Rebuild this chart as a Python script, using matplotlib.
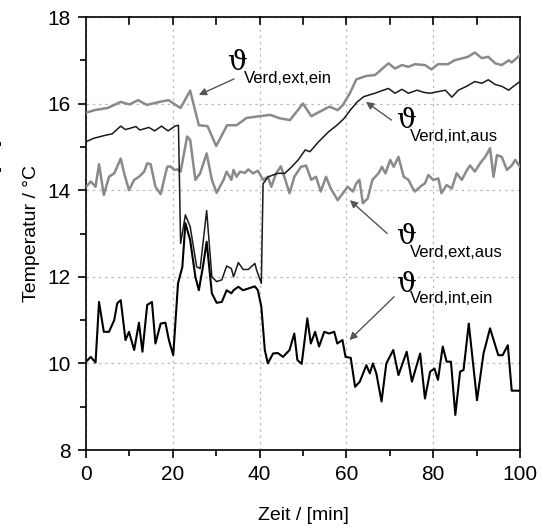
import numpy as np
import matplotlib
matplotlib.use("Agg")
from matplotlib import pyplot as plt
from matplotlib.ticker import MultipleLocator

plt.rcParams['font.family'] = ['Liberation Sans', 'DejaVu Sans']

# time / min and temperature / degC
t_ext_ein = [0, 2, 5, 8, 10, 12, 14, 17, 19, 20.5, 21.8, 24, 26, 28, 30, 32.5, 34.7, 37, 39.3, 42.4,
             44.7, 47, 50, 51.9, 53.8, 56.1, 58, 59.2, 60.8, 62.3, 64.6, 66.6, 68.2, 69.7, 71.2, 72.8,
             74.3, 75.8, 78.1, 79.6, 81.1, 83.4, 84.9, 88, 89.6, 91.2, 92.7, 94.3, 95.8, 97.4, 98.1, 100]
T_ext_ein = [15.79, 15.85, 15.9, 16.04, 15.98, 16.08, 15.97, 16.04, 16.08, 15.98, 15.9, 16.3, 15.5,
             15.48, 15.02, 15.5, 15.5, 15.67, 15.70, 15.74, 15.66, 15.62, 16.0, 15.71, 15.81, 15.93,
             15.85, 15.97, 16.24, 16.56, 16.64, 16.66, 16.8, 16.93, 16.81, 16.89, 16.85, 16.91, 16.89,
             16.79, 16.91, 16.91, 17.0, 17.08, 17.18, 17.05, 17.08, 16.93, 16.89, 17.0, 16.95, 17.12]

t_int_aus = [0, 1.8, 4.5, 6, 8, 9.1, 11.5, 12.4, 14.5, 15.8, 17.4, 18.9, 20.5, 21.3, 21.8, 22.9, 24,
             25.5, 26.3, 27.8, 29, 30.1, 31.3, 32.4, 33.5, 34, 35.1, 36.2, 37.4, 38.9, 39.3, 40.4, 40.8,
             42, 44.2, 45.8, 47, 48.9, 50.5, 51.6, 53.6, 55.9, 57.8, 59.4, 60.9, 62.5, 64, 65.9, 66.6,
             68.2, 69.7, 71.2, 72.8, 74.3, 76.3, 77.8, 79.3, 81.3, 82.8, 84.3, 85.8, 87.7, 89.6, 91.2,
             92.7, 94.3, 95.8, 97.4, 98.5, 100]
T_int_aus = [15.12, 15.2, 15.27, 15.3, 15.48, 15.4, 15.47, 15.39, 15.45, 15.37, 15.48, 15.37, 15.48,
             15.5, 12.77, 13.43, 13.16, 12.23, 12.19, 13.53, 12.0, 11.89, 11.93, 12.25, 12.19, 12.0,
             12.33, 12.17, 12.17, 12.31, 12.16, 11.85, 14.15, 14.31, 14.39, 14.39, 14.5, 14.7, 14.93,
             14.89, 15.12, 15.35, 15.5, 15.65, 15.85, 16.04, 16.16, 16.22, 16.24, 16.3, 16.35, 16.24,
             16.33, 16.24, 16.31, 16.26, 16.24, 16.28, 16.31, 16.15, 16.31, 16.4, 16.51, 16.47, 16.55,
             16.44, 16.4, 16.31, 16.4, 16.51]

t_ext_aus = [0, 1.1, 2.2, 3, 4.1, 5.3, 6.5, 8, 8.8, 9.9, 11.1, 12.2, 13.4, 14.1, 14.9, 16, 17.2, 18.7,
             19.5, 20.3, 21, 21.8, 23.3, 24, 25.2, 26.3, 27.8, 29, 30.1, 31.7, 32.4, 33.5, 34, 34.7,
             35.5, 36.6, 37.4, 38.5, 39.6, 40.8, 41.9, 42.7, 43.8, 44.9, 45.7, 46.9, 48, 49.5, 50.7,
             51.9, 53, 54.1, 55.3, 56.4, 58, 59.2, 60.3, 61.5, 62.3, 63, 63.8, 64.9, 66, 67.4, 68.2, 69,
             70.1, 70.9, 72, 73.2, 74.3, 75.1, 75.8, 77, 78.1, 78.9, 80, 81.2, 81.9, 83.1, 84.3, 85.4,
             86.6, 87.8, 88.5, 89.6, 90.8, 92, 93.1, 93.9, 94.7, 95.8, 97, 98.1, 98.9, 100]
T_ext_aus = [14.08, 14.2, 14.08, 14.6, 13.89, 14.31, 14.39, 14.73, 14.39, 14.0, 14.24, 14.31, 14.43,
             14.62, 14.6, 14.08, 13.91, 14.54, 14.55, 14.47, 14.48, 14.43, 15.24, 15.16, 14.24, 14.39,
             14.85, 14.24, 13.94, 14.24, 14.43, 14.24, 14.47, 14.31, 14.43, 14.4, 14.48, 14.39, 14.45,
             14.24, 14.31, 14.08, 14.39, 14.55, 14.31, 13.93, 14.31, 14.54, 14.57, 14.24, 14.31, 13.97,
             14.31, 14.04, 13.77, 13.93, 14.08, 13.97, 14.16, 14.24, 13.70, 13.81, 14.24, 14.39, 14.54,
             14.39, 14.7, 14.54, 14.77, 14.31, 14.24, 14.08, 13.97, 14.08, 14.16, 14.35, 14.24, 14.27,
             13.93, 14.12, 14.04, 14.39, 14.24, 14.47, 14.57, 14.43, 14.62, 14.77, 14.97, 14.31, 14.81,
             14.77, 14.47, 14.57, 14.7, 14.54]

t_int_ein = [0, 1.1, 2.2, 3, 4.1, 5.3, 6.5, 7.2, 8, 9.1, 9.9, 11.1, 12.2, 13, 14.1, 15.2, 16, 17.2,
             18.3, 19.1, 20.1, 21.2, 22.2, 22.9, 24, 25.2, 26, 27, 27.8, 29, 30.1, 31.3, 32.4, 33.5, 34,
             35.1, 36.2, 37.4, 38.9, 39.6, 40.4, 41.2, 41.9, 43.1, 44.2, 45.4, 46.9, 48, 48.7, 49.7, 51,
             51.8, 52.8, 53.7, 54.9, 56, 57.2, 57.9, 59.1, 59.8, 61, 62, 63.1, 64.6, 65.4, 66.1, 66.9,
             68.1, 69.2, 70.8, 72, 73.9, 75.1, 77, 78.1, 79.3, 80.3, 81.1, 82.2, 83.1, 84.1, 85.1, 86.2,
             87, 88.2, 90.1, 91.6, 93.1, 95, 96, 97.2, 98.1, 100]
T_int_ein = [10.04, 10.15, 10.02, 11.42, 10.73, 10.73, 11.0, 11.39, 11.46, 10.54, 10.73, 10.31, 10.94,
             10.27, 11.35, 11.42, 10.46, 10.92, 10.94, 10.54, 10.19, 11.85, 12.23, 13.24, 12.85, 12.0,
             11.69, 12.27, 12.81, 11.62, 11.4, 11.42, 11.69, 11.62, 11.69, 11.77, 11.69, 11.73, 11.78,
             11.69, 11.31, 10.31, 10.0, 10.23, 10.24, 10.15, 10.31, 10.69, 10.08, 9.99, 11.04, 10.46,
             10.73, 10.39, 10.73, 10.69, 10.73, 10.46, 10.54, 10.15, 10.13, 9.46, 9.58, 9.96, 9.77,
             10.0, 9.77, 9.12, 10.0, 10.31, 9.73, 10.27, 9.58, 10.23, 9.19, 9.81, 9.88, 9.62, 10.39,
             10.04, 10.04, 8.81, 9.81, 9.85, 10.92, 9.15, 10.23, 10.81, 10.19, 10.19, 10.42, 9.37, 9.37]

# labels: (subscript, theta pos, subscript pos, arrow tail, arrow head)
labels = [
    ("Verd,ext,ein", (32.5, 16.94), (36.4, 16.57), (34.1, 16.57), (26.0, 16.2)),
    ("Verd,int,aus", (71.5, 15.6), (74.7, 15.25), (70.4, 15.62), (64.5, 16.04)),
    ("Verd,ext,aus", (71.5, 12.92), (74.7, 12.57), (69.4, 13.0), (60.8, 13.77)),
    ("Verd,int,ein", (71.5, 11.83), (74.7, 11.51), (71.0, 11.54), (60.7, 10.54)),
]

gray = '#8a8a8a'

fig = plt.figure(figsize=(5.43, 5.30), dpi=100)
ax = fig.add_axes([0.1584, 0.1509, 0.9576 - 0.1584, 0.9679 - 0.1509])

ax.plot(t_ext_ein, T_ext_ein, color=gray, lw=1.8, zorder=3)
ax.plot(t_ext_aus, T_ext_aus, color=gray, lw=1.8, zorder=3)
ax.plot(t_int_aus, T_int_aus, color='#1a1a1a', lw=1.1, zorder=4)
ax.plot(t_int_ein, T_int_ein, color='black', lw=1.5, zorder=4)

for sub, th, sp, tail, head in labels:
    ax.text(th[0], th[1], "\u03d1", family='DejaVu Serif', fontsize=20, ha='left', va='center')
    ax.text(sp[0], sp[1], sub, fontsize=12, ha='left', va='center')
    ax.annotate("", xy=head, xytext=tail,
                arrowprops=dict(arrowstyle='-|>', color='#555555', lw=1.0,
                                mutation_scale=11, shrinkA=0, shrinkB=0))

ax.set_xlim(0, 100)
ax.set_ylim(8, 18)
ax.xaxis.set_major_locator(MultipleLocator(20))
ax.xaxis.set_minor_locator(MultipleLocator(10))
ax.yaxis.set_major_locator(MultipleLocator(2))
ax.yaxis.set_minor_locator(MultipleLocator(1))
ax.grid(True, which='major', color='#bbbbbb', linestyle=(0, (2, 3)), lw=0.9)
ax.tick_params(which='both', direction='out', top=False, right=False, labelsize=15, width=1.2)
ax.tick_params(which='major', length=6, pad=5)
ax.tick_params(which='minor', length=4)
for s in ax.spines.values():
    s.set_linewidth(1.2)

# mirrored inward ticks on the top edge
for v in np.arange(10, 100, 10):
    ax.plot([v, v], [18, 17.85], color='black', lw=1.2, clip_on=False, zorder=5)

ax.set_xlabel("Zeit / [min]", fontsize=14, labelpad=16)
ax.set_ylabel("Temperatur / \u00b0C", fontsize=14, labelpad=5)
fig.text(-0.012, 0.68, "\u03d1 / [\u00b0C]", rotation=90, fontsize=14, ha='center', va='center')

fig.savefig("out.png", dpi=100)
